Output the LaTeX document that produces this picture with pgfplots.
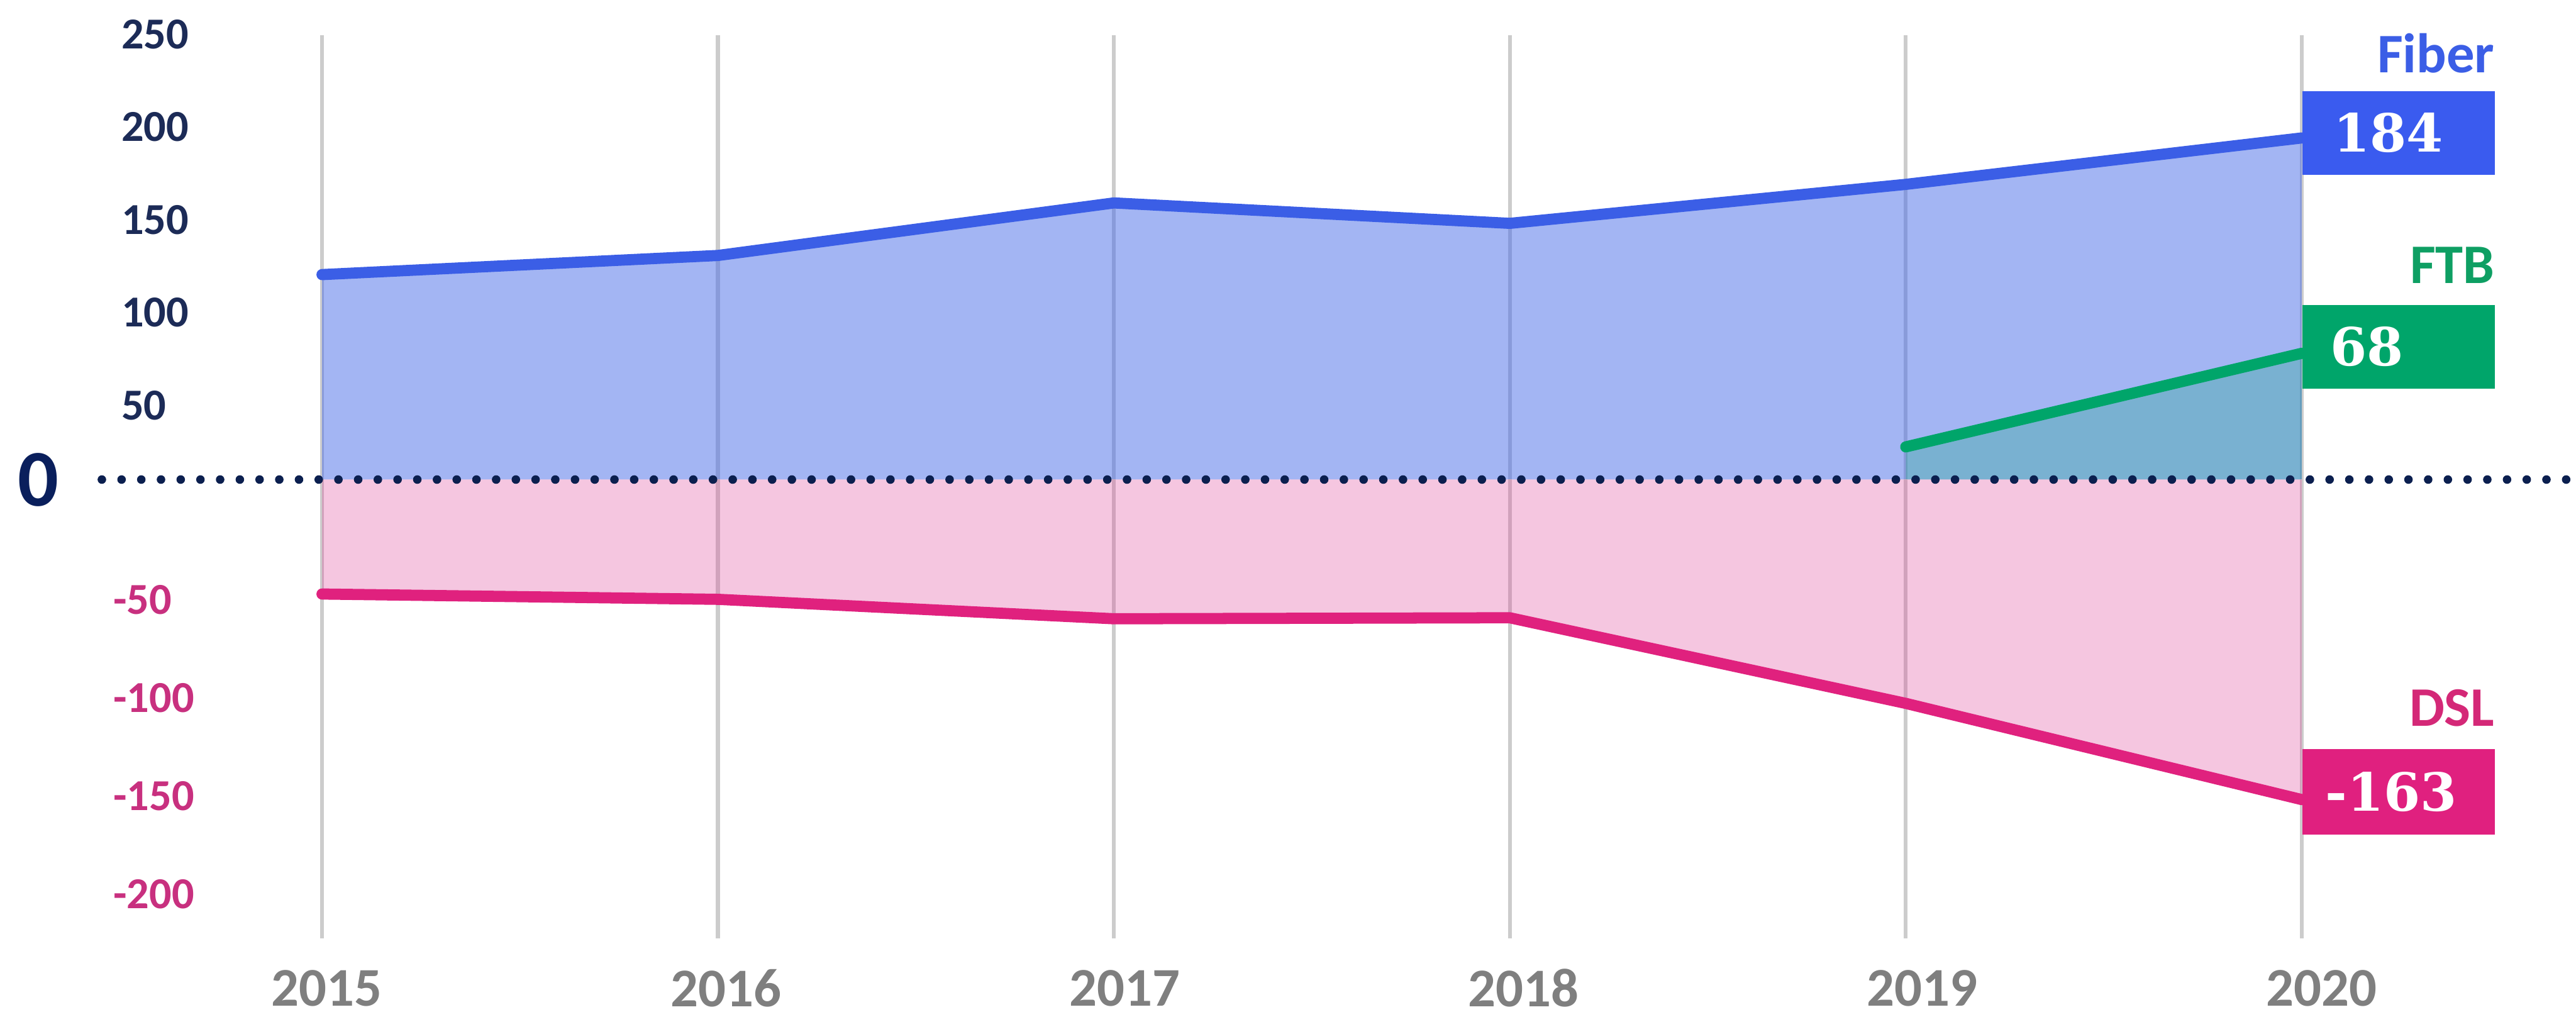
\documentclass[border=0pt]{standalone}
\usepackage{fontspec}
\setmainfont{Carlito}
\newfontfamily\serifnum{DejaVu Serif}
\usepackage{pgfplots}
\pgfplotsset{compat=1.18}

\definecolor{navytick}{HTML}{1C2B57}
\definecolor{navyzero}{HTML}{0A1F5C}
\definecolor{dotc}{HTML}{0B1F4F}
\definecolor{pinktick}{HTML}{C8307F}
\definecolor{yeargray}{HTML}{7F7F7F}
\definecolor{gridc}{HTML}{CCCCCC}
\definecolor{fiberc}{HTML}{3B5EE6}
\definecolor{fiberbox}{HTML}{3A5BEF}
\definecolor{fiberfill}{RGB}{71,108,232}
\definecolor{ftbc}{HTML}{00A56A}
\definecolor{ftblab}{HTML}{0E9F63}
\definecolor{dslc}{HTML}{E0217E}
\definecolor{dslbox}{HTML}{E0207F}
\definecolor{dsllab}{HTML}{D42877}
\definecolor{dslfill}{RGB}{222,65,152}

\pgfplotsset{
  common/.style={
    scale only axis, width=752pt,
    xmin=-0.556, xmax=5.6846,
    axis line style={draw=none}, tick style={draw=none},
    clip=false,
  },
}

\begin{document}
\begin{tikzpicture}
\useasboundingbox (0,0) rectangle (784pt,309.5pt);

% ---------- positive half ----------
\begin{axis}[common,
  at={(31pt,163.55pt)}, anchor=south west,
  height=144.075pt, ymin=0, ymax=255,
  xtick=\empty,
  ytick={50,100,150,200,250},
  yticklabels={50,100,150,200,250},
  yticklabel style={anchor=west, inner sep=0pt, xshift=5.75pt, yshift=-5.7pt,
    text=navytick, font=\bfseries\fontsize{13.45}{14}\selectfont},
]
\pgfplotsinvokeforeach{0,1,2,3,4,5}{\draw[gridc, line width=1.2pt] (axis cs:#1,0) -- (axis cs:#1,239.5);}
\addplot[draw=none, fill=fiberfill, fill opacity=0.5] coordinates
  {(0,110.4) (1,120.7) (2,149) (3,138) (4,159) (5,184)} \closedcycle;
\addplot[draw=none, fill=ftbc, fill opacity=0.25] coordinates
  {(4,17.6) (5,68)} \closedcycle;
\addplot[fiberc, line width=3.4pt, line cap=round, line join=round] coordinates
  {(0,110.4) (1,120.7) (2,149) (3,138) (4,159) (5,184)};
\addplot[ftbc, line width=3.4pt, line cap=round, line join=round] coordinates
  {(4,17.6) (5,68)};
\node[fill=fiberbox, anchor=west, inner sep=0pt, minimum height=25.5pt, yshift=1.5pt]
  (fb) at (axis cs:5,184)
  {\makebox[58.5pt][l]{\hspace{9.5pt}\serifnum\bfseries\fontsize{16}{16}\selectfont\color{white}184}};
\node[anchor=base east, inner sep=0pt, text=fiberc, font=\bfseries\fontsize{17}{17}\selectfont]
  at ([yshift=5.35pt]fb.north east) {Fiber};
\node[fill=ftbc, anchor=west, inner sep=0pt, minimum height=25.5pt, yshift=2pt]
  (tb) at (axis cs:5,68)
  {\makebox[58.5pt][l]{\hspace{8.5pt}\serifnum\bfseries\fontsize{16}{16}\selectfont\color{white}68}};
\node[anchor=base east, inner sep=0pt, text=ftblab, font=\bfseries\fontsize{17}{17}\selectfont]
  at ([yshift=6.35pt]tb.north east) {FTB};
\end{axis}

% ---------- negative half ----------
\begin{axis}[common,
  at={(31pt,163.55pt)}, anchor=north west,
  height=143.4pt, ymin=-240, ymax=0,
  xtick={0.012,1.02,2.027,3.035,4.042,5.05},
  xticklabels={2015,2016,2017,2018,2019,2020},
  xticklabel style={anchor=center, inner sep=0pt, yshift=-11.4pt,
    text=yeargray, font=\bfseries\fontsize{16.6}{17}\selectfont},
  ytick={-200,-150,-100,-50},
  yticklabels={-200,-150,-100,-50},
  yticklabel style={anchor=west, inner sep=0pt, xshift=3.3pt, yshift=-6.7pt,
    text=pinktick, font=\bfseries\fontsize{13.45}{14}\selectfont},
]
\pgfplotsinvokeforeach{0,1,2,3,4,5}{\draw[gridc, line width=1.2pt] (axis cs:#1,0) -- (axis cs:#1,-233.6);}
\addplot[draw=none, fill=dslfill, fill opacity=0.3] coordinates
  {(0,-58.3) (1,-61) (2,-70.9) (3,-70.4) (4,-114) (5,-163)} \closedcycle;
\addplot[dslc, line width=3.4pt, line cap=round, line join=round] coordinates
  {(0,-58.3) (1,-61) (2,-70.9) (3,-70.4) (4,-114) (5,-163)};
\node[fill=dslbox, anchor=west, inner sep=0pt, minimum height=26pt, yshift=2.35pt]
  (db) at (axis cs:5,-163)
  {\makebox[58.5pt][l]{\hspace{7pt}\serifnum\bfseries\fontsize{16}{16}\selectfont\color{white}-163}};
\node[anchor=base east, inner sep=0pt, text=dsllab, font=\bfseries\fontsize{17}{17}\selectfont]
  at ([yshift=6.9pt]db.north east) {DSL};
% zero line
\addplot[dotc, line width=2.6pt, dash pattern=on 0pt off 6pt, line cap=round] coordinates
  {(-0.556,0) (5.6846,0)};
\node[text=navyzero, font=\bfseries\fontsize{24.5}{25}\selectfont, inner sep=0pt]
  at ([xshift=-19.25pt]rel axis cs:0,1) {0};
\end{axis}
\end{tikzpicture}
\end{document}
